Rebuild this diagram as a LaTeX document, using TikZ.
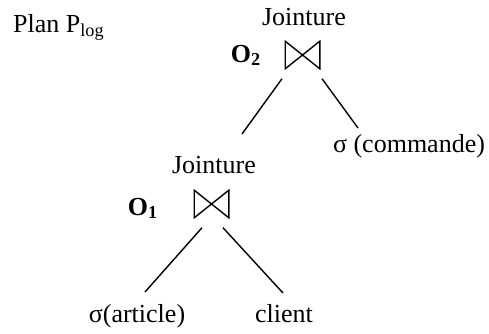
\documentclass[tikz,border=0pt]{standalone}
\usepackage{fontspec}
\setmainfont{Liberation Serif}
\usepackage{tikz}
\usetikzlibrary{calc,positioning}
\tikzset{
  lbl/.style={inner sep=0pt,anchor=base,font=\fontsize{26}{30}\selectfont},
  joinop/.style={minimum width=36pt,minimum height=29pt,inner sep=0pt,
    path picture={\draw[line width=1.4pt,line join=miter]
      ([shift={(.7pt,.7pt)}]path picture bounding box.south west)
      --([shift={(.7pt,-.7pt)}]path picture bounding box.north west)
      --(path picture bounding box.center)--cycle
      ([shift={(-.7pt,.7pt)}]path picture bounding box.south east)
      --([shift={(-.7pt,-.7pt)}]path picture bounding box.north east)
      --(path picture bounding box.center)--cycle;}},
  edge/.style={line width=1.4pt}
}
\begin{document}
\begin{tikzpicture}[x=1pt,y=-1pt]
  \useasboundingbox(0,0)rectangle(489,333);
  \node[lbl,anchor=base west](plan)at(13,32){Plan P\textsubscript{log}};
  \node[lbl](jn2)at(304,25){Jointure};
  \node[joinop](j2)at(302.5,55){};
  \node[lbl,anchor=base east](o2)at(261,62){\textbf{O}\textsubscript{\textbf{2}}};
  \node[lbl](cmd)at(409,152){σ (commande)};
  \node[lbl](jn1)at(214,173){Jointure};
  \node[joinop](j1)at(211.5,204){};
  \node[lbl,anchor=base east](o1)at(158,215){\textbf{O}\textsubscript{\textbf{1}}};
  \node[lbl](art)at(137,322){σ(article)};
  \node[lbl](cli)at(284,322){client};
  \draw[edge]([xshift=-20.5pt,yshift=-9pt]j2.south)--([xshift=28pt,yshift=39pt]jn1.base);
  \draw[edge]([xshift=19.5pt,yshift=-9pt]j2.south)--([xshift=-51pt,yshift=24pt]cmd.base);
  \draw[edge]([xshift=-9.5pt,yshift=-9pt]j1.south)--([xshift=8pt,yshift=30pt]art.base);
  \draw[edge]([xshift=11.5pt,yshift=-9pt]j1.south)--([xshift=-1pt,yshift=29pt]cli.base);
\end{tikzpicture}
\end{document}
